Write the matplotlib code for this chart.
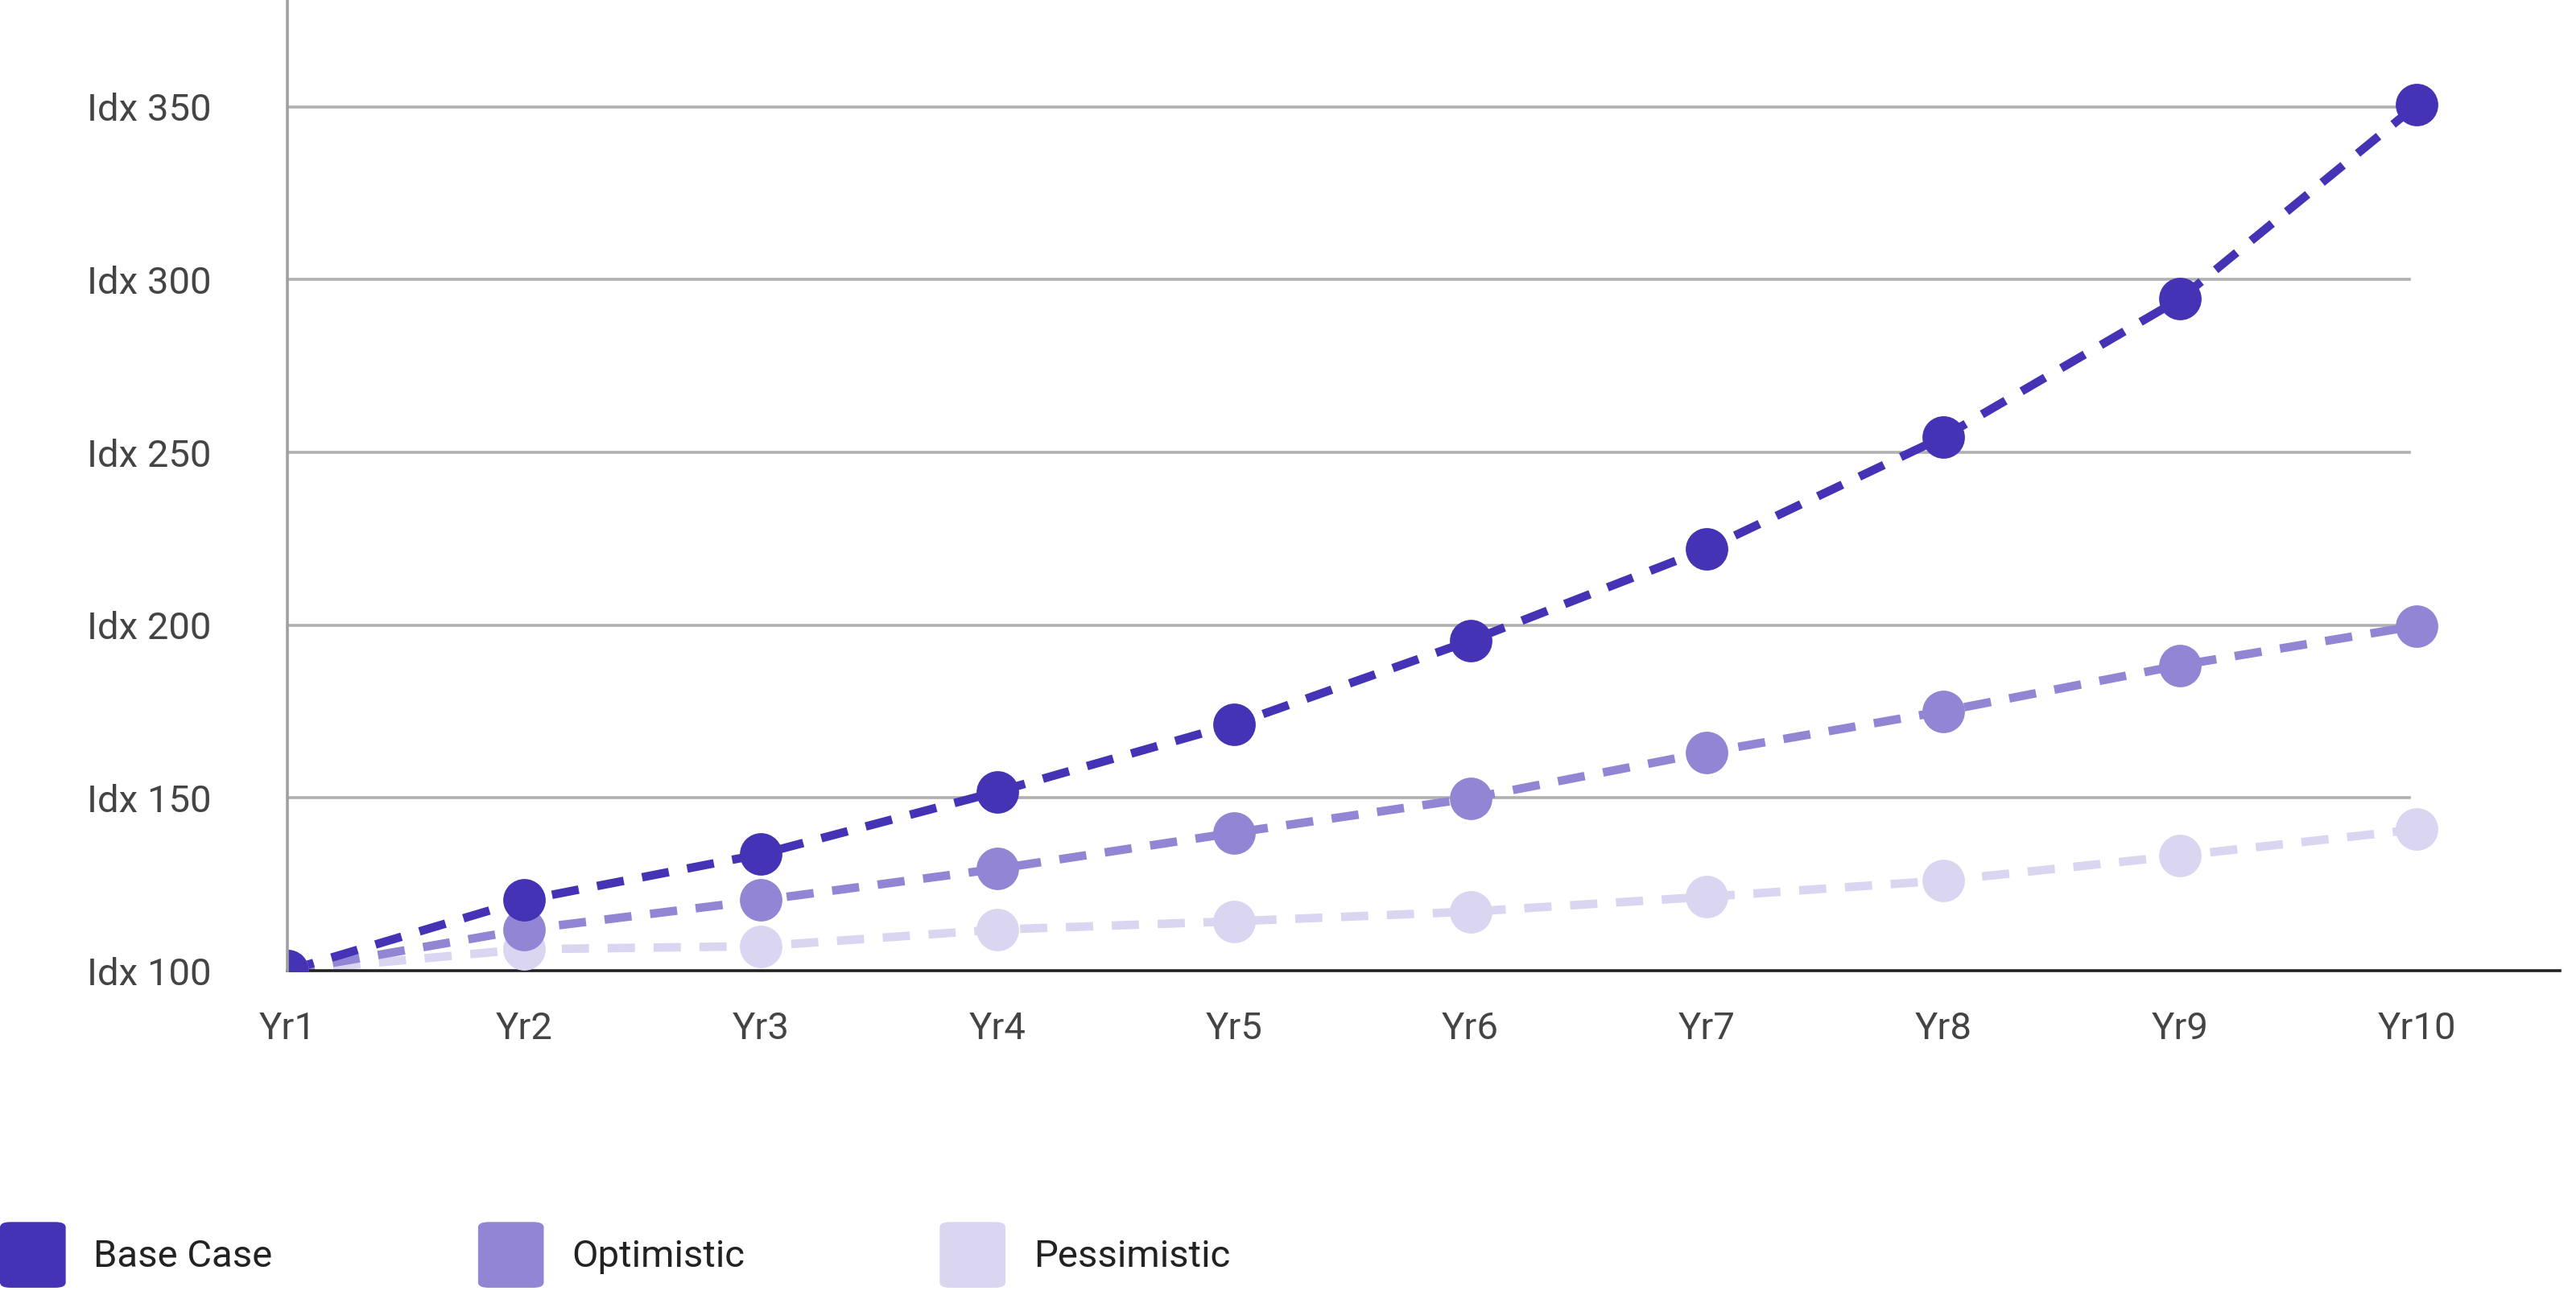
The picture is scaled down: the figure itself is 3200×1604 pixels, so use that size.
import matplotlib
matplotlib.use("Agg")
import matplotlib.pyplot as plt
from matplotlib.patches import FancyBboxPatch

plt.rcParams['font.family'] = ['Roboto', 'DejaVu Sans']

years = ["Yr1","Yr2","Yr3","Yr4","Yr5","Yr6","Yr7","Yr8","Yr9","Yr10"]
base = [100,120.4,133.7,151.8,171.3,195.5,222.1,254.5,294.4,350.5]
optimistic = [100,111.9,120.4,129.5,139.9,149.9,163.2,175.1,188.4,199.8]
pessimistic = [100,106.2,107.1,111.9,114.3,117.1,121.4,126.1,133.3,140.9]
names = ["Base Case","Optimistic","Pessimistic"]
colors = ["#4433B5","#9285D4","#DAD5F0"]
yticks = [100,150,200,250,300,350]

W, H = 1568, 786
fig = plt.figure(figsize=(16, 8.02), dpi=200)
ax = fig.add_axes([175/W, 1-591/H, (1558-175)/W, 591/H])
x = list(range(len(years)))
ax.set_xlim(0, 9 + (1558-1471)/144)
ax.set_ylim(100, 100 + 591/2.104)
for yv in yticks[1:]:
    ax.plot([0, 9-0.03], [yv, yv], color="#b0b0b0", lw=1.3, zorder=0)
for s, c in reversed(list(zip([base, optimistic, pessimistic], colors))):
    ax.plot(x, s, color=c, lw=3.8, ls=(0, (3.2, 2.2)), zorder=2)
    ax.plot(x, s, 'o', color=c, ms=19, mec='none', zorder=3)
for sp in ["top","right"]:
    ax.spines[sp].set_visible(False)
ax.spines["left"].set_color("#a0a0a0")
ax.spines["left"].set_linewidth(1.3)
ax.spines["bottom"].set_color("#222222")
ax.spines["bottom"].set_linewidth(1.3)
ax.spines["left"].set_zorder(5)
ax.set_xticks(x, years)
ax.set_yticks(yticks, [f"Idx {v}" for v in yticks])
ax.tick_params(axis='both', length=0, labelsize=17, labelcolor="#444444")
ax.tick_params(axis='x', pad=18)
ax.tick_params(axis='y', pad=34)

for i, (n, c) in enumerate(zip(names, colors)):
    x0 = [0, 291, 572][i]
    fig.patches.append(FancyBboxPatch((x0/W, 1-784/H), 40/W, 40/H,
        boxstyle="round,pad=0,rounding_size=0.004", transform=fig.transFigure,
        facecolor=c, edgecolor='none'))
    fig.text((x0+57)/W, 1-765/H, n, fontsize=17, color="#222222", va='center')

fig.savefig("out.png", dpi=200)
